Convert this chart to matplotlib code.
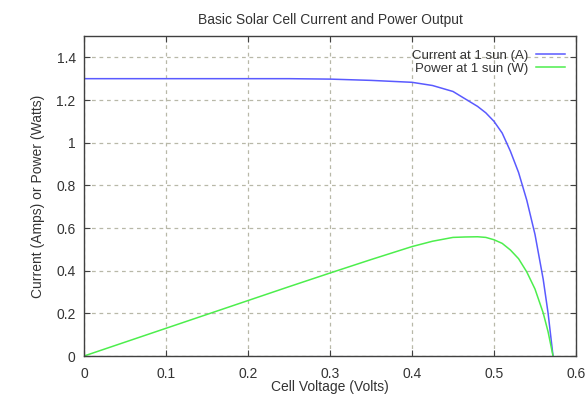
import matplotlib.pyplot as plt

# voltage sweep (V) with current (A) and power (W) read at each point
volts = [0, 0.05, 0.1, 0.15, 0.2, 0.25, 0.3, 0.35, 0.4, 0.425, 0.45, 0.465,
         0.48, 0.49, 0.5, 0.51, 0.52, 0.53, 0.54, 0.55, 0.56, 0.566, 0.572]
current = [1.30, 1.30, 1.30, 1.30, 1.30, 1.30, 1.298, 1.292, 1.283, 1.268,
           1.24, 1.205, 1.17, 1.14, 1.10, 1.045, 0.96, 0.86, 0.73, 0.57,
           0.36, 0.20, 0.0]
power = [0, 0.065, 0.13, 0.195, 0.26, 0.325, 0.389, 0.452, 0.513, 0.538,
         0.556, 0.558, 0.559, 0.556, 0.545, 0.528, 0.497, 0.456, 0.394, 0.314,
         0.202, 0.113, 0.0]

xticks = [0, 0.1, 0.2, 0.3, 0.4, 0.5, 0.6]
xtick_labels = ['0', '0.1', '0.2', '0.3', '0.4', '0.5', '0.6']
yticks = [0, 0.2, 0.4, 0.6, 0.8, 1.0, 1.2, 1.4]
ytick_labels = ['0', '0.2', '0.4', '0.6', '0.8', '1', '1.2', '1.4']

plt.rcParams['font.family'] = ['Liberation Sans', 'DejaVu Sans']

fig = plt.figure(figsize=(5.85, 3.94), dpi=100)
ax = fig.add_axes([0.1436, 0.0964, 0.8410, 0.8122])

ax.plot(volts, current, color='#5a5aff', lw=1.1, label='Current at 1 sun (A)')
ax.plot(volts, power, color='#4dee4d', lw=1.1, label='Power at 1 sun (W)')

ax.set_xlim(0, 0.6)
ax.set_ylim(0, 1.5)
ax.set_xticks(xticks)
ax.set_xticklabels(xtick_labels)
ax.set_yticks(yticks)
ax.set_yticklabels(ytick_labels)
ax.tick_params(direction='in', length=4, colors='#404040', labelsize=10,
               labelcolor='#333333', top=True, right=True)
ax.tick_params(axis='x', pad=8)
ax.tick_params(axis='y', pad=6)

ax.grid(True, color='#b8b8a8', linestyle=(0, (3, 3)), linewidth=0.9)
for s in ax.spines.values():
    s.set_color('#404040')
    s.set_linewidth(1.0)

ax.set_title('Basic Solar Cell Current and Power Output', fontsize=10,
             color='#333333', pad=9)
ax.set_xlabel('Cell Voltage (Volts)', fontsize=10, color='#333333')
ax.xaxis.set_label_coords(0.5, -0.076)
ax.set_ylabel('Current (Amps) or Power (Watts)', fontsize=10,
              color='#333333', labelpad=8)

leg = ax.legend(loc='upper right', bbox_to_anchor=(0.988, 0.975),
                frameon=False, markerfirst=False, fontsize=9.5,
                handlelength=2.2, handletextpad=0.6, borderaxespad=0.0,
                labelspacing=0.1)
for t in leg.get_texts():
    t.set_ha('right')
    t.set_color('#333333')

fig.savefig('out.png', dpi=100)
